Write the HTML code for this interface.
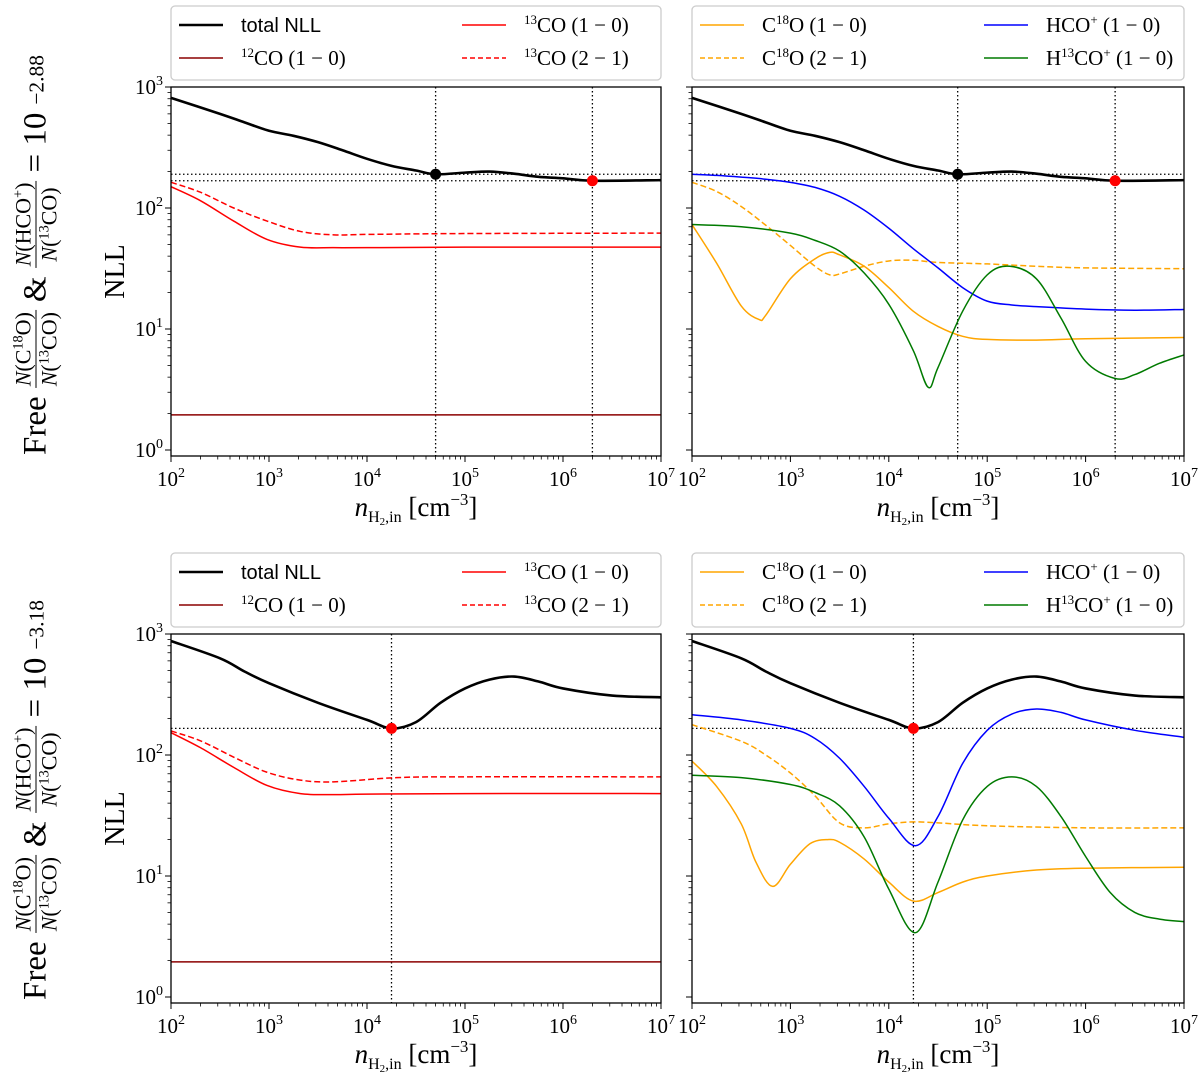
<!DOCTYPE html>
<html><head><meta charset="utf-8">
<style>
body{margin:0;background:#fff;width:1200px;height:1079px;overflow:hidden;position:relative;font-family:"Liberation Serif",serif}
svg{position:absolute;left:0;top:0}
.big{position:absolute;white-space:nowrap;font-size:33px;color:#000;transform:translate(-50%,-50%) rotate(-90deg);display:flex;align-items:center;gap:8px}
.frac{display:inline-flex;flex-direction:column;align-items:center;font-size:22px;line-height:25px}
.frac .n{border-bottom:1.5px solid #000;padding:0 2px}
.frac sup,.big sup{font-size:65%;vertical-align:0.55em;line-height:0}
</style></head><body>
<div class="big" style="left:36px;top:255px">Free <span class="frac"><span class="n"><i>N</i>(C<sup>18</sup>O)</span><span><i>N</i>(<sup>13</sup>CO)</span></span> &amp; <span class="frac"><span class="n"><i>N</i>(HCO<sup>+</sup>)</span><span><i>N</i>(<sup>13</sup>CO)</span></span> = 10<sup>−2.88</sup></div>
<div class="big" style="left:36px;top:800px">Free <span class="frac"><span class="n"><i>N</i>(C<sup>18</sup>O)</span><span><i>N</i>(<sup>13</sup>CO)</span></span> &amp; <span class="frac"><span class="n"><i>N</i>(HCO<sup>+</sup>)</span><span><i>N</i>(<sup>13</sup>CO)</span></span> = 10<sup>−3.18</sup></div>
<svg id="chart" width="1200" height="1079" xmlns="http://www.w3.org/2000/svg"></svg>
<script>
// ---- data (x in log10 n, y in NLL) ----
const topTotalX=[2,2.5,2.75,3,3.25,3.5,3.75,4,4.25,4.5,4.7,5,5.25,5.5,5.75,6,6.3,7];
const topTotalY=[813,600,510,435,395,350,300,255,223,204,190,196,200,192,181,176,168,170];
const top12X=[2,7];
const top12Y=[1.95,1.95];
const top13aX=[2,2.3,2.64,2.98,3.32,3.66,4,5,7];
const top13aY=[150,115,78,55,47.5,47,47,47.5,47.5];
const top13bX=[2,2.3,2.64,2.98,3.32,3.66,4,5,7];
const top13bY=[163,135,100,78,64,60,60.5,61.5,62];
const topC18aX=[2,2.25,2.5,2.68,2.75,3,3.25,3.4,3.5,3.75,4,4.25,4.5,4.75,5,5.5,6,7];
const topC18aY=[73,35,15.5,12,13,26,38,43,41,33,22,14,10.5,8.7,8.2,8.1,8.3,8.5];
const topC18bX=[2,2.25,2.5,2.75,3,3.25,3.4,3.5,3.75,4,4.25,4.5,5,5.5,6,7];
const topC18bY=[163,137,103,72,49,33,28,28.5,33,36.5,37,35.5,34.5,33,32,31.5];
const topHcoX=[2,2.25,2.5,2.75,3,3.25,3.5,3.75,4,4.25,4.5,4.75,5,5.25,5.5,6,6.5,7];
const topHcoY=[190,186,180,173,163,148,125,96,68,46,32,22,17,15.8,15.3,14.6,14.3,14.5];
const topH13X=[2,2.5,3,3.25,3.5,3.75,4,4.25,4.4,4.5,4.75,5,5.23,5.5,5.75,6,6.3,6.5,6.75,7];
const topH13Y=[73,70,62,54,44,29,16,6.6,3.3,4.8,14,28,33,26,12.3,5.4,3.9,4.2,5.2,6.1];
const topMarkX=[4.7,6.3];
const topMarkY=[190,168];

const botTotalX=[2,2.5,2.75,3,3.5,4,4.25,4.5,4.75,5,5.25,5.5,5.75,6,6.5,7];
const botTotalY=[875,630,490,392,270,195,166,187,270,355,420,445,405,355,310,300];
const bot12X=[2,7];
const bot12Y=[1.95,1.95];
const bot13aX=[2,2.3,2.64,2.98,3.32,3.66,4,5,7];
const bot13aY=[153,115,79,56,48,47,47.5,48,48];
const bot13bX=[2,2.3,2.64,2.98,3.32,3.66,4.3,5,7];
const bot13bY=[158,131,96,72,62,60,65,66,66];
const botC18aX=[2,2.25,2.5,2.65,2.82,3,3.2,3.38,3.5,3.75,4,4.25,4.5,4.75,5,5.5,6,7];
const botC18aY=[89,55,27,13,8.2,12.5,18.5,20,19,13.8,8.9,6.2,7.3,8.9,10,11.2,11.6,11.8];
const botC18bX=[2,2.5,2.75,3,3.25,3.5,3.75,4,4.25,4.5,5,6,7];
const botC18bY=[178,130,100,71,46,27.5,25,27,28,27.5,26,25,25];
const botHcoX=[2,2.5,3,3.25,3.5,3.75,4,4.27,4.5,4.75,5,5.25,5.5,5.75,6,6.5,7];
const botHcoY=[215,195,166,137,94,55,30,17.8,31,85,160,218,240,225,195,160,140];
const botH13X=[2,2.5,3,3.25,3.5,3.75,4,4.27,4.5,4.75,5,5.25,5.5,5.75,6,6.25,6.5,6.75,7];
const botH13Y=[68,65,57,49,38,21,7.8,3.4,8.9,29,55,66,55,31,14.5,7.3,5,4.4,4.2];
const botMarkX=[4.25];
const botMarkY=[166];

const xTicks=[2,3,4,5,6,7];
const yTicks=[0,1,2,3];

const svg=document.getElementById('chart');
const NS='http://www.w3.org/2000/svg';
function mk(tag,attrs,parent){const e=document.createElementNS(NS,tag);for(const k in attrs)e.setAttribute(k,attrs[k]);(parent||svg).appendChild(e);return e;}

function panel(p){
  const g=mk('g',{});
  
  
  const sx=L=>p.x0+(L-2)/5*(p.x1-p.x0);
  const sy=v=>p.y3+(3-Math.log10(v))*121;
  const yb=p.y3+3*121+6;
  function path(xs,ys,color,w,dash,name){
    const pts=xs.map((L,i)=>[sx(L),sy(ys[i])]);
    let d='M'+pts[0][0]+','+pts[0][1];
    for(let i=0;i<pts.length-1;i++){
      const p0=pts[Math.max(0,i-1)],p1=pts[i],p2=pts[i+1],p3=pts[Math.min(pts.length-1,i+2)];
      const t=6;
      d+=` C${p1[0]+(p2[0]-p0[0])/t},${p1[1]+(p2[1]-p0[1])/t} ${p2[0]-(p3[0]-p1[0])/t},${p2[1]-(p3[1]-p1[1])/t} ${p2[0]},${p2[1]}`;
    }
    const e=mk('path',{d:d,fill:'none',stroke:color,'stroke-width':w,'stroke-dasharray':dash||'none'},g);
    
    
  }
  p.marksX.forEach((L,i)=>{
    const v=mk('line',{x1:sx(L),x2:sx(L),y1:p.y3,y2:yb,stroke:'#000','stroke-width':1.3,'stroke-dasharray':'1.5,2.5'},g);
    
    
    const h=mk('line',{x1:p.x0,x2:p.x1,y1:sy(p.marksY[i]),y2:sy(p.marksY[i]),stroke:'#000','stroke-width':1.3,'stroke-dasharray':'1.5,2.5'},g);
    
    
  });
  p.series.forEach(s=>path(s[0],s[1],s[2],s[3],s[4],s[5]));
  p.marksX.forEach((L,i)=>{
    const c=mk('circle',{cx:sx(L),cy:sy(p.marksY[i]),r:5.5,fill:(i===p.marksX.length-1)?'#ff0000':'#000'},g);
    
    
  });
  const fr=mk('rect',{x:p.x0,y:p.y3,width:p.x1-p.x0,height:yb-p.y3,fill:'none',stroke:'#000','stroke-width':1.3},g);
  
  
  xTicks.forEach(L=>{
    mk('line',{x1:sx(L),x2:sx(L),y1:yb,y2:yb+6,stroke:'#000','stroke-width':1},g);
    if(L<7)for(let k=2;k<10;k++){const xx=sx(L+Math.log10(k));mk('line',{x1:xx,x2:xx,y1:yb,y2:yb+3.5,stroke:'#000','stroke-width':0.8},g);}
    const t=mk('text',{x:sx(L),y:yb+30,'text-anchor':'middle','font-size':21,'font-family':'Liberation Serif, serif'},g);
    
    
    t.innerHTML='10<tspan dy="-9" font-size="14">'+L+'</tspan>';
  });
  yTicks.forEach(E=>{
    const yy=sy(Math.pow(10,E));
    mk('line',{x1:p.x0-6,x2:p.x0,y1:yy,y2:yy,stroke:'#000','stroke-width':1},g);
    if(E<3)for(let k=2;k<10;k++){const y2=sy(k*Math.pow(10,E));mk('line',{x1:p.x0-3.5,x2:p.x0,y1:y2,y2:y2,stroke:'#000','stroke-width':0.8},g);}
    if(p.ylab){
      const t=mk('text',{x:p.x0-22,y:yy+7,'text-anchor':'middle','font-size':21,'font-family':'Liberation Serif, serif'},g);
      
      
      t.innerHTML='10<tspan dy="-9" font-size="14">'+E+'</tspan>';
    }
  });
  for(let k=1;k<=4;k++){const y2=sy(k/5+0.0001);if(y2<yb)mk('line',{x1:p.x0-3.5,x2:p.x0,y1:y2,y2:y2,stroke:'#000','stroke-width':0.8},g);}
  const xl=mk('text',{x:(p.x0+p.x1)/2,y:yb+60,'text-anchor':'middle','font-size':27,'font-family':'Liberation Serif, serif'},g);
  
  
  xl.innerHTML='<tspan font-style="italic">n</tspan><tspan font-size="16" dy="6">H</tspan><tspan font-size="11" dy="3">2</tspan><tspan font-size="16" dy="-3">,in</tspan><tspan dy="-6"> [cm</tspan><tspan font-size="17" dy="-11">−3</tspan><tspan dy="11">]</tspan>';
  if(p.ylab){
    const yl=mk('text',{x:0,y:0,'text-anchor':'middle','font-size':28,'font-family':'Liberation Serif, serif',transform:`translate(124,${(p.y3+yb)/2}) rotate(-90)`},g);
    
    
    yl.textContent='NLL';
  }
}

function legend(x,y,w,entries,name){
  const g=mk('g',{});
  
  
  mk('rect',{x:x,y:y,width:w,height:74,rx:4,fill:'#fff',stroke:'#ccc','stroke-width':1.3},g);
  entries.forEach((e,i)=>{
    const col=i%2,row=Math.floor(i/2);
    const lx=x+8+col*(w/2+38),ly=y+19+row*33;
    const item=mk('g',{},g);
    
    
    mk('line',{x1:lx,x2:lx+44,y1:ly,y2:ly,stroke:e[1],'stroke-width':e[2],'stroke-dasharray':e[3]||'none'},item);
    const t=mk('text',{x:lx+62,y:ly+7,'font-size':e[4]?20:21,'font-family':e[4]?'Liberation Sans, sans-serif':'Liberation Serif, serif'},item);
    t.innerHTML=e[0];
  });
}
const sup=s=>'<tspan dy="-8" font-size="13">'+s+'</tspan><tspan dy="8">';
const leftEntries=[['total NLL','#000',2.5,null,true],['<tspan></tspan>'+sup('13')+'CO (1 − 0)</tspan>','#ff0000',1.5],
 ['<tspan></tspan>'+sup('12')+'CO (1 − 0)</tspan>','#8b0000',1.5],['<tspan></tspan>'+sup('13')+'CO (2 − 1)</tspan>','#ff0000',1.5,'5,3']];
const rightEntries=[['C'+sup('18')+'O (1 − 0)</tspan>','#ffa500',1.5],['HCO'+sup('+')+' (1 − 0)</tspan>','#0000ff',1.5],
 ['C'+sup('18')+'O (2 − 1)</tspan>','#ffa500',1.5,'5,3'],['H'+sup('13')+'CO'+sup('+')+' (1 − 0)</tspan></tspan>','#007a00',1.5]];

panel({name:'panel-top-left',x0:171,x1:661,y3:87,ylab:true,marksX:topMarkX,marksY:topMarkY,series:[
 [top12X,top12Y,'#8b0000',1.5,null,'line-12co-10'],[top13bX,top13bY,'#ff0000',1.5,'6,3','line-13co-21'],
 [top13aX,top13aY,'#ff0000',1.5,null,'line-13co-10'],[topTotalX,topTotalY,'#000',2.6,null,'line-total-nll']]});
panel({name:'panel-top-right',x0:692,x1:1184,y3:87,ylab:false,marksX:topMarkX,marksY:topMarkY,series:[
 [topC18bX,topC18bY,'#ffa500',1.5,'6,3','line-c18o-21'],[topC18aX,topC18aY,'#ffa500',1.5,null,'line-c18o-10'],
 [topHcoX,topHcoY,'#0000ff',1.5,null,'line-hco-10'],[topH13X,topH13Y,'#007a00',1.5,null,'line-h13co-10'],[topTotalX,topTotalY,'#000',2.6,null,'line-total-nll']]});
panel({name:'panel-bottom-left',x0:171,x1:661,y3:634,ylab:true,marksX:botMarkX,marksY:botMarkY,series:[
 [bot12X,bot12Y,'#8b0000',1.5,null,'line-12co-10'],[bot13bX,bot13bY,'#ff0000',1.5,'6,3','line-13co-21'],
 [bot13aX,bot13aY,'#ff0000',1.5,null,'line-13co-10'],[botTotalX,botTotalY,'#000',2.6,null,'line-total-nll']]});
panel({name:'panel-bottom-right',x0:692,x1:1184,y3:634,ylab:false,marksX:botMarkX,marksY:botMarkY,series:[
 [botC18bX,botC18bY,'#ffa500',1.5,'6,3','line-c18o-21'],[botC18aX,botC18aY,'#ffa500',1.5,null,'line-c18o-10'],
 [botHcoX,botHcoY,'#0000ff',1.5,null,'line-hco-10'],[botH13X,botH13Y,'#007a00',1.5,null,'line-h13co-10'],[botTotalX,botTotalY,'#000',2.6,null,'line-total-nll']]});
legend(171,6,490,leftEntries,'legend-top-left');
legend(692,6,492,rightEntries,'legend-top-right');
legend(171,553,490,leftEntries,'legend-bottom-left');
legend(692,553,492,rightEntries,'legend-bottom-right');
</script>
</body></html>
